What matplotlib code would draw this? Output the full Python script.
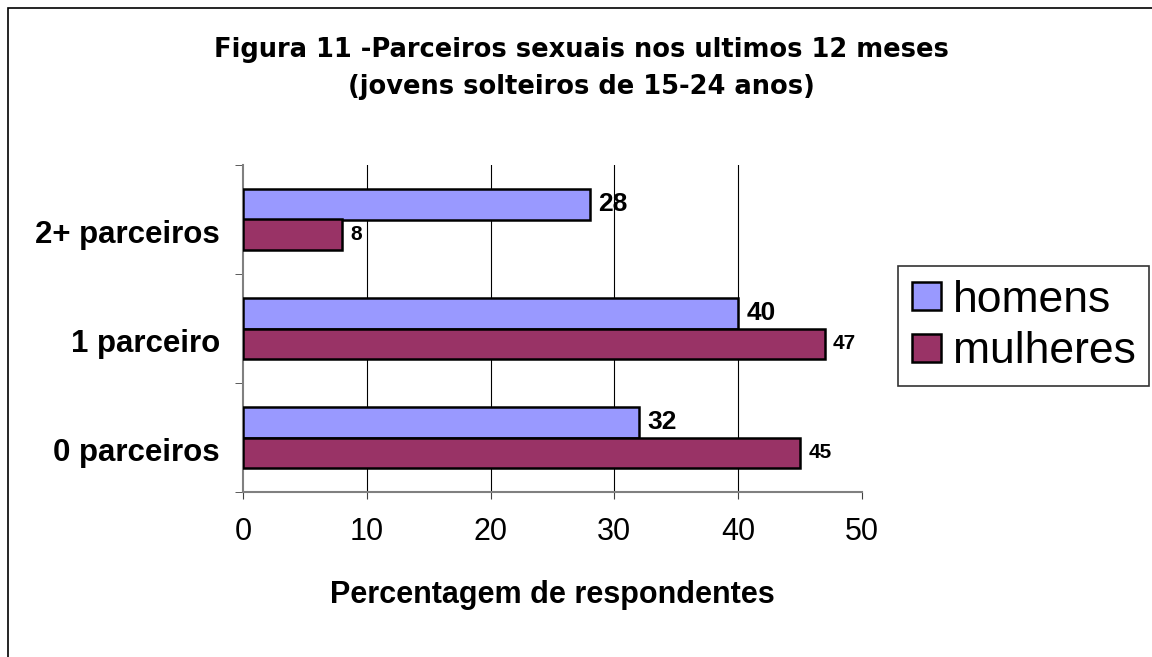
import numpy as np
import matplotlib
matplotlib.use('Agg')
import matplotlib.pyplot as plt
from matplotlib.patches import Rectangle
from matplotlib.transforms import ScaledTranslation

# Data
categories = ['0 parceiros', '1 parceiro', '2+ parceiros']
homens = [32, 40, 28]
mulheres = [45, 47, 8]
series_names = ['homens', 'mulheres']
xticks = [0, 10, 20, 30, 40, 50]
title_lines = ['Figura 11 -Parceiros sexuais nos ultimos 12 meses',
               '(jovens solteiros de 15-24 anos)']

plt.rcParams['font.family'] = ['Liberation Sans', 'DejaVu Sans']

fig = plt.figure(figsize=(11.52, 6.57), dpi=100)
W, H = 1152, 657

# outer chart frame (right/bottom edges fall outside the image)
fig.add_artist(Rectangle((8 / W, -0.02), 1.1, 1 - 8 / H + 0.02, transform=fig.transFigure,
                         fill=False, edgecolor='black', linewidth=1.2))

ax = fig.add_axes([243 / W, 1 - 492 / H, (862 - 243) / W, (492 - 165) / H])

y = np.arange(len(categories))
h = 0.28
b1 = ax.barh(y + h / 2, homens, height=h, color='#9999FF', edgecolor='black', linewidth=1.8,
             label=series_names[0], zorder=3)
b2 = ax.barh(y - h / 2, mulheres, height=h, color='#993366', edgecolor='black', linewidth=1.8,
             label=series_names[1], zorder=3)

for yy, v in zip(y + h / 2, homens):
    ax.text(v + 0.7, yy, str(v), va='center', ha='left', fontsize=19, fontweight='bold')
for yy, v in zip(y - h / 2, mulheres):
    ax.text(v + 0.65, yy, str(v), va='center', ha='left', fontsize=15, fontweight='bold')

ax.set_xlim(0, 50)
ax.set_ylim(-0.5, 2.5)
ax.set_xticks(xticks)
ax.set_xticklabels([str(t) for t in xticks], fontsize=22)
ax.set_yticks(y)
ax.set_yticklabels(categories, fontsize=22.5, fontweight='bold')
ax.tick_params(axis='y', length=0, pad=16.5)
ax.tick_params(axis='x', length=5, color='#404040', pad=13, direction='out')
ax.set_yticks([-0.5, 0.5, 1.5, 2.5], minor=True)
ax.tick_params(axis='y', which='minor', length=6, color='#404040')

# category labels sit a bit below the band centre in the original
shift = ScaledTranslation(0, -12 / 100, fig.dpi_scale_trans)
for lab in ax.get_yticklabels():
    lab.set_transform(lab.get_transform() + shift)

for gx in xticks[1:-1]:
    ax.axvline(gx, color='black', linewidth=0.8, zorder=1)

for s in ['top', 'right']:
    ax.spines[s].set_visible(False)
for s in ['left', 'bottom']:
    ax.spines[s].set_color('#808080')
    ax.spines[s].set_linewidth(1.5)

ax.set_xlabel('Percentagem de respondentes', fontsize=22, fontweight='bold')
ax.xaxis.label.set_va('baseline')
ax.xaxis.set_label_coords(0.5, (492 - 603) / (492 - 165))

fig.text(581 / W, 1 - 57 / H, title_lines[0], ha='center', va='baseline', fontsize=18.5,
         fontweight='bold', family='DejaVu Sans')
fig.text(581 / W, 1 - 94 / H, title_lines[1], ha='center', va='baseline', fontsize=18.5,
         fontweight='bold', family='DejaVu Sans')

leg = fig.legend(handles=[b1, b2], labels=series_names, loc='center',
                 bbox_to_anchor=(1023.5 / W, 1 - 326 / H), fontsize=32, frameon=True,
                 fancybox=False, edgecolor='black', handlelength=0.65, handleheight=0.6,
                 handletextpad=0.27, borderpad=0.3, labelspacing=0.24, borderaxespad=0)
leg.get_frame().set_linewidth(1.2)

fig.savefig('out.png', dpi=100)
